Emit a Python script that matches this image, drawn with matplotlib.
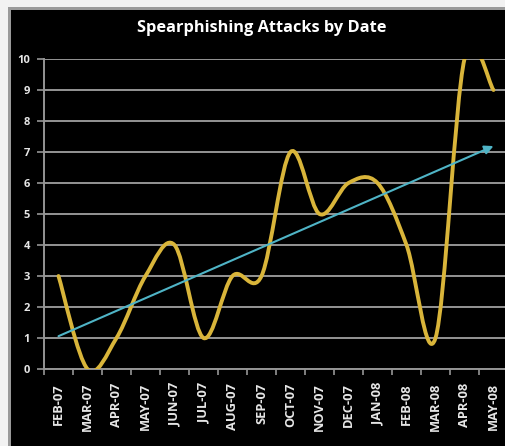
import numpy as np
import matplotlib
matplotlib.use('Agg')
import matplotlib.pyplot as plt
from matplotlib.path import Path
from matplotlib.patches import PathPatch, Rectangle

# ------------------------ Data ------------------------
months = ["FEB-07", "MAR-07", "APR-07", "MAY-07", "JUN-07", "JUL-07", "AUG-07", "SEP-07",
          "OCT-07", "NOV-07", "DEC-07", "JAN-08", "FEB-08", "MAR-08", "APR-08", "MAY-08"]
attacks = [3, 0, 1, 3, 4, 1, 3, 3, 7, 5, 6, 6, 4, 1, 10, 9]
y_ticks = [0, 1, 2, 3, 4, 5, 6, 7, 8, 9, 10]

title = "Spearphishing Attacks by Date"

# colours
line_col = "#d9b53a"
trend_col = "#4fb4c6"
grid_col = "#959595"
text_col = "#e6e6e6"

plt.rcParams['font.family'] = ['Open Sans', 'DejaVu Sans']


# ------------------------ Helpers ------------------------
def smooth_path(xs, ys):
    # excel-like smoothed line: cubic bezier segments with catmull-rom control points
    pts = np.column_stack([xs, ys]).astype(float)
    n = len(pts)
    verts = [pts[0]]
    codes = [Path.MOVETO]
    for i in range(n - 1):
        p0 = pts[i - 1] if i > 0 else pts[i]
        p1 = pts[i]
        p2 = pts[i + 1]
        p3 = pts[i + 2] if i + 2 < n else pts[i + 1]
        c1 = p1 + (p2 - p0) / 6.0
        c2 = p2 - (p3 - p1) / 6.0
        verts += [c1, c2, p2]
        codes += [Path.CURVE4] * 3
    return Path(verts, codes)


# ------------------------ Plotting ------------------------
W, H = 506, 446
fig = plt.figure(figsize=(W / 100, H / 100), dpi=100)
fig.patch.set_facecolor("black")

# light frame top and left
fig.patches.append(Rectangle((0, 1 - 7 / H), 1, 7 / H, transform=fig.transFigure,
                             facecolor="#f2f2f2", edgecolor="none", zorder=-5))
fig.patches.append(Rectangle((0, 1 - 10 / H), 1, 3 / H, transform=fig.transFigure,
                             facecolor="#9a9a9a", edgecolor="none", zorder=-5))
fig.patches.append(Rectangle((0, 0), 8 / W, 1, transform=fig.transFigure,
                             facecolor="#f2f2f2", edgecolor="none", zorder=-4))
fig.patches.append(Rectangle((8 / W, 0), 3 / W, 1 - 7 / H, transform=fig.transFigure,
                             facecolor="#9a9a9a", edgecolor="none", zorder=-4))

left, right = 44, 508
bottom, top = 369, 59
ax = fig.add_axes([left / W, 1 - bottom / H, (right - left) / W, (bottom - top) / H])
ax.set_facecolor("black")

x = np.arange(1, len(months) + 1)
ax.set_xlim(0.5, len(months) + 0.5)
ax.set_ylim(0, 10)

ax.add_patch(PathPatch(smooth_path(x, attacks), facecolor="none", edgecolor=line_col,
                       lw=2.8, capstyle="round", joinstyle="round", zorder=3))

# linear trend
coef = np.polyfit(x, attacks, 1)
y0 = np.polyval(coef, x[0])
y1 = np.polyval(coef, x[-1])
ax.annotate("", xy=(x[-1], y1), xytext=(x[0], y0),
            arrowprops=dict(arrowstyle="-|>", color=trend_col, lw=1.5,
                            mutation_scale=13, shrinkA=0, shrinkB=0), zorder=4)

# grid and axes
ax.set_yticks(y_ticks)
ax.yaxis.grid(True, color=grid_col, lw=1.4, zorder=0)
ax.set_axisbelow(True)
ax.set_xticks(np.arange(0.5, len(months) + 1, 1))
ax.set_xticks(x, minor=True)
ax.set_xticklabels([])
ax.set_xticklabels(months, minor=True, rotation=90, fontsize=9.3, fontweight="bold",
                   color=text_col, va="top")
ax.tick_params(axis="x", which="major", length=4, color=grid_col, width=1.2, direction="out")
ax.tick_params(axis="x", which="minor", length=0, pad=10)
ax.tick_params(axis="y", length=5, color=grid_col, width=1.2, labelsize=8,
               labelcolor=text_col, pad=5)
for lab in ax.get_yticklabels():
    lab.set_fontweight("bold")

for s in ["top", "right"]:
    ax.spines[s].set_visible(False)
ax.spines["left"].set_color(grid_col)
ax.spines["left"].set_linewidth(1.4)
ax.spines["bottom"].set_color(grid_col)
ax.spines["bottom"].set_linewidth(1.4)

fig.text(262 / W, 1 - 28 / H, title, ha="center", va="center", color="white",
         fontsize=11.8, fontweight="bold")

plt.savefig("out.png", dpi=100, facecolor=fig.get_facecolor())
